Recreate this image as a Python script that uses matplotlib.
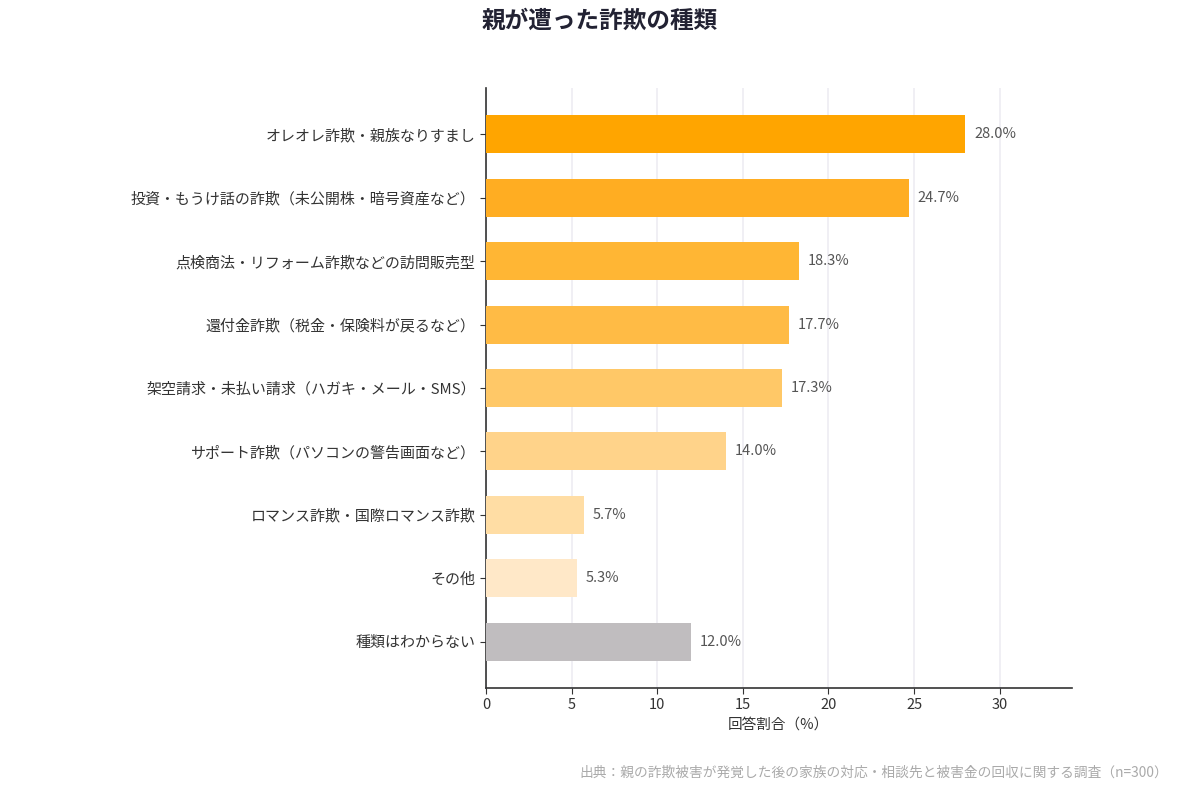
import matplotlib
matplotlib.use("Agg")
import matplotlib.pyplot as plt

plt.rcParams['font.family'] = ['Noto Sans CJK JP', 'DejaVu Sans']

categories = [
    "オレオレ詐欺・親族なりすまし",
    "投資・もうけ話の詐欺（未公開株・暗号資産など）",
    "点検商法・リフォーム詐欺などの訪問販売型",
    "還付金詐欺（税金・保険料が戻るなど）",
    "架空請求・未払い請求（ハガキ・メール・SMS）",
    "サポート詐欺（パソコンの警告画面など）",
    "ロマンス詐欺・国際ロマンス詐欺",
    "その他",
    "種類はわからない",
]
values = [28.0, 24.7, 18.3, 17.7, 17.3, 14.0, 5.7, 5.3, 12.0]
colors = ["#FFA500", "#FFAD22", "#FFB634", "#FFBB45", "#FFC867",
          "#FFD38A", "#FFDDA4", "#FFE8C8", "#C0BDBF"]
xticks = [0, 5, 10, 15, 20, 25, 30]

fig = plt.figure(figsize=(12, 8), dpi=100)
ax = fig.add_axes([0.405, 0.14, 0.488, 0.75])

ypos = list(range(len(categories)))
ax.barh(ypos, values, height=0.6, color=colors, zorder=3)
for y, v in zip(ypos, values):
    ax.text(v + 0.5, y, f"{v:.1f}%", va='center', ha='left',
            fontsize=10.5, color='#555555', zorder=4)

ax.set_yticks(ypos)
ax.set_yticklabels(categories, fontsize=10.8, color='#333333')
ax.set_ylim(8.73, -0.73)
ax.set_xlim(0, 34.2)
ax.set_xticks(xticks)
ax.set_xticklabels([str(t) for t in xticks], fontsize=10.5, color='#333333')
ax.set_xlabel("回答割合（%）", fontsize=10.5, color='#333333', labelpad=4)

ax.grid(axis='x', color='#EEECF2', linewidth=1.2, zorder=0)
ax.set_axisbelow(True)
for s in ['top', 'right']:
    ax.spines[s].set_visible(False)
for s in ['left', 'bottom']:
    ax.spines[s].set_color('#333333')
    ax.spines[s].set_linewidth(1.2)
ax.tick_params(axis='both', colors='#333333', length=4)
for lbl in ax.get_xticklabels() + ax.get_yticklabels():
    lbl.set_color('#333333')

fig.text(0.5, 0.974, "親が遭った詐欺の種類", ha='center', va='center',
         fontsize=17, fontweight='bold', color='#222233')
fig.text(0.9735, 0.034,
         "出典：親の詐欺被害が発覚した後の家族の対応・相談先と被害金の回収に関する調査（n=300）",
         ha='right', va='center', fontsize=9.9, color='#AAAAAA')

fig.savefig("out.png", dpi=100, facecolor='white')
